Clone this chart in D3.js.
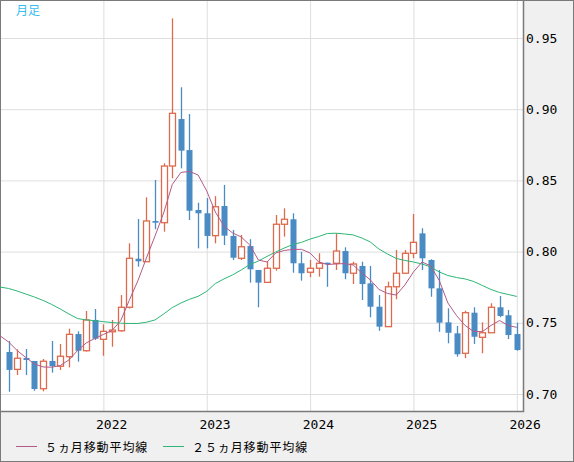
<!DOCTYPE html>
<html>
<head>
<meta charset="utf-8">
<script src="https://cdn.jsdelivr.net/npm/d3@7"></script>
<style>
body { margin: 0; background: #f0f0f0; }
svg { display: block; }
.axis text { font-family: "DejaVu Sans Mono", monospace; font-size: 13px; fill: #000; }
.legend text { font-family: "Noto Sans CJK JP", sans-serif; font-size: 12px; letter-spacing: 0.9px; fill: #000; }
</style>
</head>
<body>
<div id="chart"></div>
<script>
// month categories, Jan 2021 .. Jan 2026 (first month only carries the moving averages)
const months = [
  "2021-01","2021-02","2021-03","2021-04","2021-05","2021-06","2021-07","2021-08","2021-09","2021-10","2021-11","2021-12",
  "2022-01","2022-02","2022-03","2022-04","2022-05","2022-06","2022-07","2022-08","2022-09","2022-10","2022-11","2022-12",
  "2023-01","2023-02","2023-03","2023-04","2023-05","2023-06","2023-07","2023-08","2023-09","2023-10","2023-11","2023-12",
  "2024-01","2024-02","2024-03","2024-04","2024-05","2024-06","2024-07","2024-08","2024-09","2024-10","2024-11","2024-12",
  "2025-01","2025-02","2025-03","2025-04","2025-05","2025-06","2025-07","2025-08","2025-09","2025-10","2025-11","2025-12",
  "2026-01"
];

// candles start at 2021-02
const open = [
  0.7295,0.7173,0.7253,0.7232,0.7037,0.7232,0.7195,0.7262,0.7421,0.7304,0.7520,
  0.7384,0.7437,0.7444,0.7609,0.7950,0.7929,0.8215,0.8203,0.8601,0.8931,0.8713,0.8292,
  0.8269,0.8112,0.8320,0.8110,0.7953,0.8039,0.7871,0.7784,0.7883,0.8192,0.8227,0.7918,
  0.7855,0.7883,0.7922,0.7918,0.8004,0.7848,0.7899,0.7777,0.7613,0.7473,0.7753,0.7848,
  0.7988,0.8128,0.7941,0.7742,0.7503,0.7426,0.7286,0.7571,0.7398,0.7430,0.7609,0.7553,
  0.7421
];
const high = [
  0.7372,0.7314,0.7316,0.7232,0.7246,0.7372,0.7351,0.7459,0.7440,0.7583,0.7597,
  0.7489,0.7520,0.7695,0.8058,0.8229,0.8381,0.8503,0.8620,0.9638,0.9154,0.8966,0.8343,
  0.8376,0.8390,0.8468,0.8152,0.8117,0.8087,0.7871,0.7934,0.8257,0.8304,0.8269,0.7999,
  0.7941,0.7988,0.7922,0.8128,0.8030,0.7929,0.7929,0.7899,0.7695,0.7789,0.8011,0.8011,
  0.8264,0.8164,0.7946,0.7871,0.7602,0.7478,0.7585,0.7609,0.7503,0.7637,0.7688,0.7590,
  0.7501
];
const low = [
  0.7016,0.7133,0.7133,0.7023,0.7019,0.7150,0.7169,0.7187,0.7227,0.7297,0.7379,
  0.7269,0.7332,0.7437,0.7600,0.7894,0.7929,0.8157,0.8140,0.8515,0.8585,0.8222,0.8023,
  0.8023,0.8058,0.8046,0.7941,0.7941,0.7782,0.7609,0.7784,0.7866,0.8105,0.7852,0.7796,
  0.7820,0.7824,0.7753,0.7871,0.7806,0.7772,0.7660,0.7539,0.7444,0.7473,0.7665,0.7848,
  0.7953,0.7871,0.7683,0.7437,0.7356,0.7262,0.7251,0.7351,0.7286,0.7430,0.7539,0.7386,
  0.7304
];
const close = [
  0.7169,0.7251,0.7239,0.7035,0.7230,0.7195,0.7265,0.7419,0.7304,0.7520,0.7388,
  0.7440,0.7449,0.7609,0.7953,0.7932,0.8215,0.8203,0.8601,0.8971,0.8709,0.8287,0.8269,
  0.8110,0.8315,0.8112,0.7957,0.8034,0.7876,0.7782,0.7883,0.8192,0.8227,0.7918,0.7848,
  0.7883,0.7918,0.7913,0.8004,0.7848,0.7913,0.7772,0.7613,0.7473,0.7753,0.7848,0.7988,
  0.8065,0.7953,0.7742,0.7501,0.7430,0.7279,0.7571,0.7402,0.7430,0.7609,0.7548,0.7414,
  0.7309
];

// moving averages, from 2021-01
const ma5 = [
  0.7409,0.7365,0.7305,0.7256,0.7211,0.7190,0.7188,0.7200,0.7239,0.7305,0.7358,0.7390,
  0.7418,0.7446,0.7513,0.7657,0.7794,0.7955,0.8110,0.8271,0.8471,0.8556,0.8563,0.8538,
  0.8426,0.8278,0.8180,0.8131,0.8103,0.8046,0.7941,0.7927,0.7990,0.8008,0.8015,0.8016,
  0.7990,0.7927,0.7909,0.7913,0.7916,0.7906,0.7850,0.7801,0.7734,0.7706,0.7695,0.7765,
  0.7857,0.7927,0.7899,0.7797,0.7639,0.7551,0.7481,0.7439,0.7438,0.7481,0.7516,0.7481,
  0.7468
];
const ma25 = [
  0.7751,0.7741,0.7723,0.7702,0.7681,0.7657,0.7629,0.7597,0.7562,0.7530,0.7520,0.7515,
  0.7508,0.7502,0.7497,0.7495,0.7495,0.7504,0.7520,0.7562,0.7607,0.7639,0.7665,0.7686,
  0.7721,0.7776,0.7808,0.7836,0.7871,0.7909,0.7934,0.7966,0.7997,0.8025,0.8050,0.8065,
  0.8088,0.8106,0.8127,0.8129,0.8124,0.8117,0.8096,0.8067,0.8018,0.7983,0.7952,0.7938,
  0.7927,0.7913,0.7892,0.7857,0.7832,0.7818,0.7808,0.7790,0.7762,0.7734,0.7713,0.7699,
  0.7685
];

const yearTicks = ["2022-01","2023-01","2024-01","2025-01","2026-01"];
const yearLabels = ["2022","2023","2024","2025","2026"];
const priceTicks = [0.70, 0.75, 0.80, 0.85, 0.90, 0.95];
const legendLabels = ["５ヵ月移動平均線", "２５ヵ月移動平均線"];
const periodLabel = "月足";

const w = 574, h = 462;
const plotR = 523, plotB = 411;
const upColor = "#dd6a4c", downColor = "#4b8bc3";
const ma5Color = "#b35a88", ma25Color = "#2db676";

const svg = d3.select("#chart").append("svg")
  .attr("width", w).attr("height", h);

svg.append("rect")
  .attr("x", 0.5).attr("y", 0.5).attr("width", w - 1).attr("height", h - 1)
  .attr("fill", "#f0f0f0").attr("stroke", "#7a7a7a");

svg.append("rect")
  .attr("x", 1).attr("y", 1).attr("width", plotR - 1).attr("height", plotB - 1)
  .attr("fill", "#fff");

const xScale = d3.scalePoint().domain(months).range([0, 516.8]);
const yScale = d3.scaleLinear().domain([0.70, 0.95]).range([394, 38]);

// grid
svg.append("g")
  .attr("transform", "translate(0," + plotB + ")")
  .call(d3.axisBottom(xScale).tickValues(yearTicks).tickSize(-(plotB - 1)).tickFormat(""))
  .call(g => g.select(".domain").remove())
  .call(g => g.selectAll("line").attr("stroke", "#dedede"));
svg.append("g")
  .attr("transform", "translate(" + plotR + ",0)")
  .call(d3.axisLeft(yScale).tickValues(priceTicks).tickSize(plotR - 1).tickFormat(""))
  .call(g => g.select(".domain").remove())
  .call(g => g.selectAll("line").attr("stroke", "#dedede"));

// candles
const candles = close.map((c, i) => ({
  m: months[i + 1], o: open[i], h: high[i], l: low[i], c: c
}));

const cg = svg.append("g");
cg.selectAll("line")
  .data(candles)
  .enter()
  .append("line")
  .attr("x1", d => Math.round(xScale(d.m)) + 0.5)
  .attr("x2", d => Math.round(xScale(d.m)) + 0.5)
  .attr("y1", d => yScale(d.h))
  .attr("y2", d => yScale(d.l))
  .attr("stroke", d => d.c >= d.o ? upColor : downColor)
  .attr("stroke-width", 1.3);

cg.selectAll("rect")
  .data(candles)
  .enter()
  .append("rect")
  .attr("x", d => Math.round(xScale(d.m)) - 2.5)
  .attr("width", 6)
  .attr("y", d => yScale(Math.max(d.o, d.c)))
  .attr("height", d => Math.max(1, yScale(Math.min(d.o, d.c)) - yScale(Math.max(d.o, d.c))))
  .attr("fill", d => d.c >= d.o ? "#fff" : downColor)
  .attr("stroke", d => d.c >= d.o ? upColor : "none")
  .attr("stroke-width", 1.3);

// moving averages
const line = d3.line()
  .x((d, i) => xScale(months[i]))
  .y(d => yScale(d));
svg.append("path").datum(ma25)
  .attr("d", line).attr("fill", "none")
  .attr("stroke", ma25Color).attr("stroke-width", 1);
svg.append("path").datum(ma5)
  .attr("d", line).attr("fill", "none")
  .attr("stroke", ma5Color).attr("stroke-width", 1);

// plot border
svg.append("path")
  .attr("d", "M" + (plotR + 0.5) + ",0V" + (plotB + 0.5) + "H0")
  .attr("fill", "none").attr("stroke", "#7a7a7a").attr("stroke-width", 1.5);

// axes
svg.append("g")
  .attr("class", "axis")
  .attr("transform", "translate(" + plotR + ",0)")
  .call(d3.axisRight(yScale).tickValues(priceTicks).tickSize(0).tickPadding(3)
    .tickFormat(d3.format(".2f")))
  .call(g => g.select(".domain").remove());

svg.append("g")
  .attr("class", "axis")
  .attr("transform", "translate(0," + plotB + ")")
  .call(d3.axisBottom(xScale).tickValues(yearTicks).tickSize(0).tickPadding(9)
    .tickFormat((d, i) => yearLabels[i]))
  .call(g => g.select(".domain").remove())
  .call(g => g.selectAll("text").attr("dx", 7.8));

// period label
svg.append("text")
  .attr("x", 16).attr("y", 15)
  .attr("font-family", "Noto Sans CJK JP, sans-serif")
  .attr("font-size", 12)
  .attr("fill", "#35bdf0")
  .text(periodLabel);

// legend
const legend = svg.append("g").attr("class", "legend");
const legendX = [16, 163];
const legendColors = [ma5Color, ma25Color];
legendLabels.forEach((lbl, i) => {
  legend.append("line")
    .attr("x1", legendX[i]).attr("x2", legendX[i] + 21)
    .attr("y1", 446.5).attr("y2", 446.5)
    .attr("stroke", legendColors[i]).attr("stroke-width", 1);
  legend.append("text")
    .attr("x", legendX[i] + 29).attr("y", 451.5)
    .text(lbl);
});
</script>
</body>
</html>
